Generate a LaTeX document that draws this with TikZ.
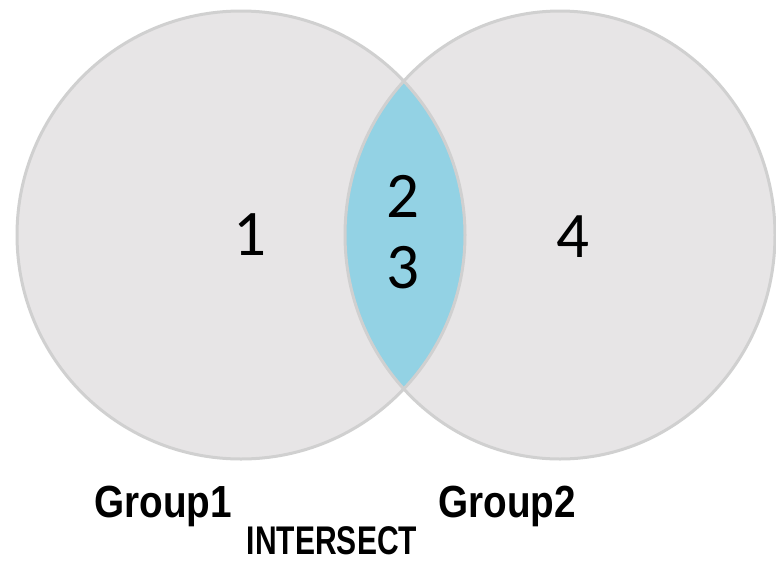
\documentclass[tikz,border=0pt]{standalone}
\usepackage{fontspec}
\setmainfont{Liberation Sans}
\newfontfamily\digitfont{Carlito}
\definecolor{circfill}{RGB}{231,229,230}
\definecolor{circline}{RGB}{208,208,208}
\definecolor{lensfill}{RGB}{147,210,228}
\begin{document}
\begin{tikzpicture}[x=1pt,y=-1pt,
  digit/.style={font=\digitfont\fontsize{65}{65}\selectfont, text=black, inner sep=0pt},
  grouplabel/.style={font=\bfseries\fontsize{45}{45}\selectfont, text=black, inner sep=0pt, xscale=0.86},
  oplabel/.style={font=\bfseries\fontsize{40}{40}\selectfont, text=black, inner sep=0pt, xscale=0.75},
  ring/.style={draw=circline, line width=3pt}]
\useasboundingbox (0,0) rectangle (776,563);
\fill[white] (0,0) rectangle (776,563);
\coordinate (cA) at (241,235);
\coordinate (cB) at (560,235);
\fill[circfill] (cA) ellipse [x radius=224, y radius=224];
\fill[circfill] (cB) ellipse [x radius=215, y radius=224];
\begin{scope}
  \clip (cA) ellipse [x radius=224, y radius=224];
  \fill[lensfill] (cB) ellipse [x radius=215, y radius=224];
\end{scope}
\draw[ring] (cA) ellipse [x radius=224, y radius=224];
\draw[ring] (cB) ellipse [x radius=215, y radius=224];
\node[digit] (n1) at (250,235) {1};
\node[digit] (n2) at (403,196) {2};
\node[digit] (n3) at (403,268) {3};
\node[digit] (n4) at (573,237) {4};
\node[grouplabel] (g1) at (163,506) {Group1};
\node[grouplabel] (g2) at (507,506) {Group2};
\node[oplabel] (op) at (332,541) {INTERSECT};
\end{tikzpicture}
\end{document}
